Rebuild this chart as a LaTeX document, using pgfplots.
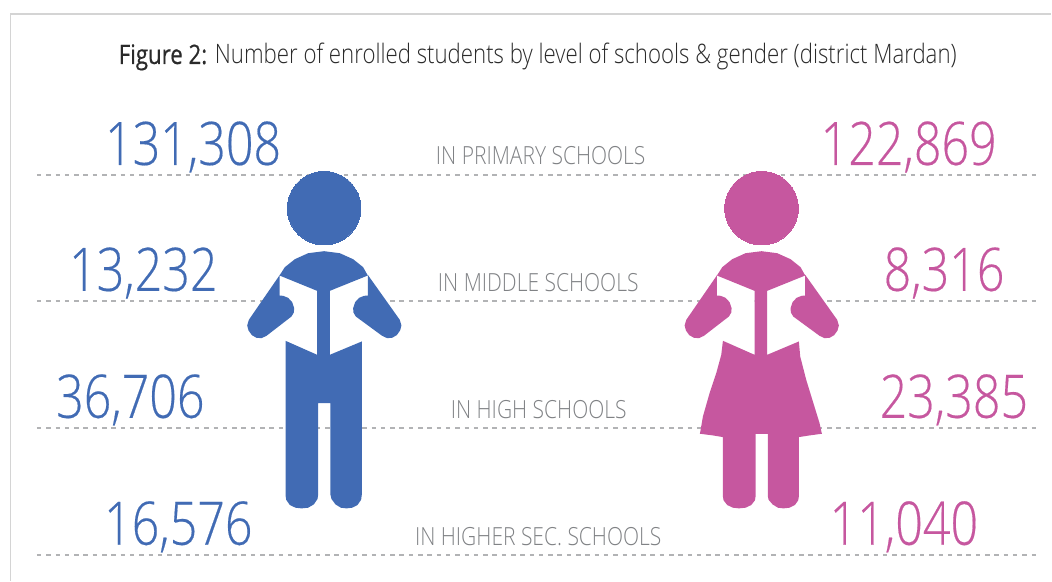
\documentclass[border=0pt]{standalone}
\usepackage{pgfplots}
\usepackage{pgfplotstable}
\pgfplotsset{compat=1.18}
\usepackage{fontspec}
\setmainfont{Open Sans}[UprightFont=* Light,BoldFont=*,FakeStretch=0.78]
\newfontfamily\titlefont{Open Sans}[UprightFont=* Light,BoldFont=*,BoldFeatures={FakeBold=0.6},FakeStretch=0.83]
\newfontfamily\capfont{Open Sans}[UprightFont=* Light,FakeStretch=0.84]
\newfontfamily\numfont{Open Sans}[UprightFont=* Light,UprightFeatures={FakeBold=0.3},FakeStretch=0.806]
\definecolor{boy}{HTML}{416BB4}
\definecolor{girl}{HTML}{C6579F}
\definecolor{sepgray}{HTML}{B2B3B5}
\definecolor{frame}{HTML}{D4D4D4}
\definecolor{caption}{HTML}{808285}
\definecolor{ink}{HTML}{2A2A2A}

% Shared outline pieces, in a 3:1 drawing grid
\pgfplotstableread{
x y
149 347
165 322
195 298
235 280
283 274
330 280
370 298
400 322
414 347
300 393
300 585
396 545
396 1005
394 1020
383 1036
367 1044
350 1046
333 1044
317 1034
305 1018
302 1005
302 730
265 730
265 1005
263 1018
252 1034
235 1044
215 1046
197 1044
180 1036
169 1020
167 1005
167 543
262 585
262 393
149 347
}\boyBody
\pgfplotstableread{
x y
149 347
262 393
262 585
167 543
149 480
149 347
}\pageLeft
\pgfplotstableread{
x y
414 347
300 393
300 585
396 545
414 480
414 347
}\pageRight
\pgfplotstableread{
x y
150 345
57 480
52 497
56 512
66 526
80 534
95 535
110 528
185 470
192 458
193 445
187 427
175 414
160 408
149 407
149 347
}\armLeft
\pgfplotstableread{
x y
414 345
510 480
515 497
511 512
501 526
487 534
472 535
457 528
378 470
371 458
370 445
376 427
388 414
403 408
414 407
414 347
}\armRight
\pgfplotstableread{
x y
142 347
158 322
188 298
228 280
276 274
323 280
363 298
393 322
407 347
293 393
293 585
388 545
392 590
410 660
430 725
450 790
457 822
420 827
388 832
388 1010
386 1022
376 1036
360 1044
342 1046
325 1044
309 1034
297 1020
295 1010
295 822
258 822
258 1010
256 1022
245 1036
228 1044
208 1046
190 1044
173 1036
162 1022
160 1010
160 832
130 827
91 822
100 770
120 700
140 640
155 585
160 543
255 585
255 393
142 347
}\girlBody

\pgfplotsset{
  boyshape/.style={fill=boy,draw=none,forget plot},
  girlshape/.style={fill=girl,draw=none,forget plot},
  paper/.style={fill=white,draw=none,forget plot},
  separator/.style={color=sepgray,line width=1.7pt,dash pattern=on 4.5pt off 4.8pt,forget plot},
}
\newcommand{\boyicon}[2][]{\addplot[#1] table[x expr=\thisrow{x}/3+230,y expr=\thisrow{y}/3+160] {#2};}
\newcommand{\girlicon}[2][]{\addplot[#1] table[x expr=\thisrow{x}/3+670,y expr=\thisrow{y}/3+160] {#2};}

\begin{document}
\begin{tikzpicture}
\begin{axis}[
  scale only axis,width=1052pt,height=581pt,
  xmin=0,xmax=1052,ymin=0,ymax=581,y dir=reverse,
  hide axis,clip=false,
]
% full page extent
\path (axis cs:0,0) rectangle (axis cs:1052,581);

% card outline
\addplot[frame,line width=1.2pt,forget plot] coordinates {(10.5,581) (10.5,14) (1052,14)};

% school level separators
\addplot[separator] coordinates {(37,175) (1041,175)};
\addplot[separator] coordinates {(37,301.5) (1041,301.5)};
\addplot[separator] coordinates {(37,428) (1041,428)};
\addplot[separator] coordinates {(37,555) (1041,555)};

% boy reading
\boyicon[paper]{\pageLeft}
\boyicon[paper]{\pageRight}
\boyicon[boyshape]{\boyBody}
\boyicon[boyshape]{\armLeft}
\boyicon[boyshape]{\armRight}
\addplot[only marks,boy,mark=*,mark size=36.8pt,mark options={fill=boy,draw=boy,line width=0pt},forget plot] coordinates {(324.3,208.3)};

% girl reading
\addplot[paper] table[x expr=\thisrow{x}/3+667.67,y expr=\thisrow{y}/3+160] {\pageLeft};
\addplot[paper] table[x expr=\thisrow{x}/3+667.67,y expr=\thisrow{y}/3+160] {\pageRight};
\girlicon[girlshape]{\girlBody}
\addplot[girlshape] table[x expr=\thisrow{x}/3+667.67,y expr=\thisrow{y}/3+160] {\armLeft};
\addplot[girlshape] table[x expr=\thisrow{x}/3+667.67,y expr=\thisrow{y}/3+160] {\armRight};
\addplot[only marks,girl,mark=*,mark size=36.8pt,mark options={fill=girl,draw=girl,line width=0pt},forget plot] coordinates {(762,208.3)};

% title
\node[anchor=base,text=ink,inner sep=0pt] at (axis cs:538,64) {\titlefont\fontsize{26.8}{30}\selectfont\textbf{Figure 2:} Number of enrolled students by level of schools \& gender (district Mardan)};

% counts of male students
\foreach \px/\py/\val in {105/165/{131,308},69/291/{13,232},56/418/{36,706},104/545/{16,576}}{
  \edef\tmp{\noexpand\node[anchor=base west,text=boy,inner sep=0pt] at (axis cs:\px,\py) {\noexpand\numfont\noexpand\fontsize{60}{60}\noexpand\selectfont \val};}\tmp
}
% counts of female students
\foreach \px/\py/\val in {821/165/{122,869},884/291/{8,316},880/418/{23,385},830/545/{11,040}}{
  \edef\tmp{\noexpand\node[anchor=base west,text=girl,inner sep=0pt] at (axis cs:\px,\py) {\noexpand\numfont\noexpand\fontsize{60}{60}\noexpand\selectfont \val};}\tmp
}
% school level captions
\foreach \px/\py/\val in {541/165/IN PRIMARY SCHOOLS,538.5/292/IN MIDDLE SCHOOLS,539/419/IN HIGH SCHOOLS,538.5/546/IN HIGHER SEC. SCHOOLS}{
  \edef\tmp{\noexpand\node[anchor=base,text=caption,inner sep=0pt] at (axis cs:\px,\py) {\noexpand\capfont\noexpand\fontsize{25}{25}\noexpand\selectfont \val};}\tmp
}
\end{axis}
\end{tikzpicture}
\end{document}
